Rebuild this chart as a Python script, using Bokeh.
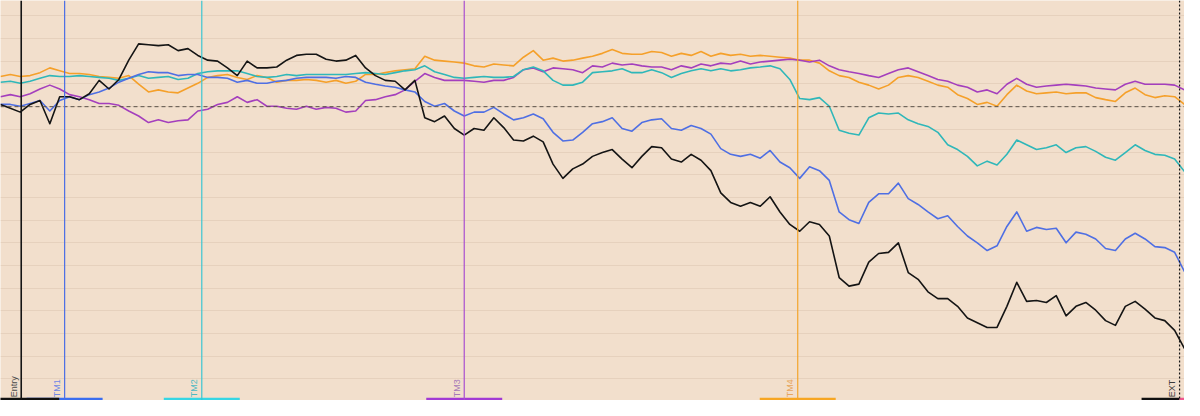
import math
from bokeh.plotting import figure
from bokeh.models import ColumnDataSource, Span, FixedTicker, Range1d
from bokeh.embed import file_html
from bokeh.resources import INLINE
from bokeh.core.properties import value

# ---- data (bar index, value in grid units; 0 = entry level) ----
bars = list(range(121))

black = [0.10, -0.07, -0.24, 0.10, 0.27, -0.75, 0.44, 0.44, 0.31, 0.57,
         1.16, 0.78, 1.20, 2.05, 2.77, 2.73, 2.69, 2.73, 2.47, 2.56,
         2.26, 2.05, 2.01, 1.71, 1.37, 2.01, 1.71, 1.71, 1.75, 2.05,
         2.26, 2.31, 2.31, 2.09, 2.01, 2.05, 2.26, 1.71, 1.37, 1.16,
         1.12, 0.74, 1.16, -0.49, -0.66, -0.41, -0.96, -1.25, -0.96, -1.04,
         -0.49, -0.92, -1.47, -1.51, -1.30, -1.55, -2.53, -3.16, -2.74, -2.53,
         -2.19, -2.02, -1.89, -2.31, -2.69, -2.19, -1.76, -1.81, -2.31, -2.44,
         -2.10, -2.36, -2.82, -3.80, -4.22, -4.39, -4.22, -4.39, -3.97, -4.64,
         -5.19, -5.49, -5.07, -5.19, -5.70, -7.53, -7.91, -7.82, -6.85, -6.47,
         -6.42, -6.00, -7.31, -7.61, -8.16, -8.46, -8.46, -8.80, -9.31, -9.52,
         -9.73, -9.73, -8.80, -7.74, -8.58, -8.54, -8.63, -8.33, -9.22, -8.80,
         -8.63, -8.97, -9.43, -9.64, -8.80, -8.58, -8.92, -9.31, -9.43, -9.86,
         -10.66]

blue = [0.10, 0.10, 0.02, 0.14, 0.27, -0.19, 0.27, 0.44, 0.31, 0.53,
        0.65, 0.82, 1.08, 1.25, 1.42, 1.54, 1.50, 1.50, 1.37, 1.42,
        1.42, 1.29, 1.29, 1.25, 1.08, 1.16, 1.03, 1.03, 1.12, 1.16,
        1.25, 1.29, 1.29, 1.29, 1.25, 1.33, 1.29, 1.08, 0.99, 0.91,
        0.86, 0.74, 0.65, 0.23, 0.02, 0.14, -0.19, -0.41, -0.24, -0.24,
        -0.03, -0.32, -0.58, -0.49, -0.32, -0.53, -1.13, -1.51, -1.47, -1.13,
        -0.75, -0.66, -0.49, -0.96, -1.08, -0.70, -0.58, -0.53, -0.96, -1.04,
        -0.83, -0.96, -1.21, -1.85, -2.10, -2.19, -2.10, -2.27, -1.93, -2.44,
        -2.69, -3.16, -2.65, -2.82, -3.25, -4.64, -4.98, -5.15, -4.22, -3.84,
        -3.84, -3.37, -4.05, -4.31, -4.64, -4.94, -4.81, -5.28, -5.70, -6.00,
        -6.34, -6.13, -5.28, -4.64, -5.49, -5.32, -5.41, -5.36, -6.00, -5.53,
        -5.62, -5.83, -6.25, -6.34, -5.83, -5.58, -5.83, -6.17, -6.21, -6.42,
        -7.27]

cyan = [1.08, 1.12, 1.03, 1.12, 1.25, 1.37, 1.33, 1.33, 1.37, 1.33,
        1.29, 1.25, 1.16, 1.25, 1.37, 1.25, 1.29, 1.33, 1.20, 1.25,
        1.46, 1.54, 1.58, 1.58, 1.58, 1.46, 1.33, 1.29, 1.33, 1.42,
        1.37, 1.42, 1.42, 1.42, 1.42, 1.42, 1.46, 1.50, 1.46, 1.42,
        1.50, 1.58, 1.63, 1.80, 1.54, 1.42, 1.29, 1.25, 1.29, 1.33,
        1.29, 1.29, 1.33, 1.63, 1.75, 1.58, 1.16, 0.95, 0.95, 1.08,
        1.50, 1.54, 1.58, 1.67, 1.50, 1.50, 1.63, 1.50, 1.29, 1.46,
        1.58, 1.67, 1.58, 1.67, 1.58, 1.63, 1.71, 1.75, 1.80, 1.67,
        1.20, 0.36, 0.31, 0.40, 0.02, -1.04, -1.17, -1.25, -0.49, -0.28,
        -0.32, -0.28, -0.58, -0.75, -0.87, -1.13, -1.68, -1.89, -2.19, -2.61,
        -2.40, -2.57, -2.10, -1.47, -1.68, -1.89, -1.81, -1.68, -2.02, -1.81,
        -1.76, -1.97, -2.23, -2.36, -2.02, -1.68, -1.93, -2.10, -2.14, -2.31,
        -2.86]

purple = [0.44, 0.53, 0.44, 0.57, 0.78, 0.95, 0.78, 0.53, 0.44, 0.31,
          0.14, 0.14, 0.06, -0.19, -0.41, -0.70, -0.58, -0.70, -0.62, -0.58,
          -0.19, -0.11, 0.10, 0.19, 0.44, 0.19, 0.31, 0.02, 0.02, -0.07,
          -0.11, 0.02, -0.11, -0.03, -0.07, -0.24, -0.19, 0.27, 0.31, 0.44,
          0.53, 0.74, 1.12, 1.46, 1.29, 1.16, 1.16, 1.16, 1.12, 1.08,
          1.16, 1.16, 1.29, 1.63, 1.71, 1.54, 1.71, 1.67, 1.63, 1.50,
          1.80, 1.75, 1.92, 1.84, 1.88, 1.80, 1.75, 1.75, 1.63, 1.80,
          1.71, 1.88, 1.80, 1.92, 1.88, 2.01, 1.88, 1.97, 2.01, 2.05,
          2.09, 2.05, 1.97, 2.05, 1.80, 1.63, 1.54, 1.46, 1.37, 1.29,
          1.46, 1.63, 1.71, 1.54, 1.37, 1.20, 1.12, 0.95, 0.86, 0.65,
          0.74, 0.57, 0.99, 1.25, 0.99, 0.86, 0.91, 0.95, 0.99, 0.95,
          0.91, 0.82, 0.78, 0.74, 0.99, 1.12, 0.99, 0.99, 0.99, 0.95,
          0.74]

orange = [1.33, 1.42, 1.33, 1.37, 1.50, 1.71, 1.58, 1.46, 1.46, 1.42,
          1.33, 1.29, 1.25, 1.37, 0.99, 0.65, 0.74, 0.65, 0.61, 0.82,
          1.03, 1.29, 1.37, 1.42, 1.29, 1.20, 1.37, 1.29, 1.08, 1.16,
          1.16, 1.20, 1.16, 1.08, 1.16, 1.03, 1.12, 1.42, 1.42, 1.50,
          1.58, 1.63, 1.67, 2.22, 2.05, 2.01, 1.97, 1.92, 1.80, 1.75,
          1.88, 1.84, 1.80, 2.18, 2.47, 2.05, 2.14, 2.01, 2.05, 2.14,
          2.22, 2.35, 2.52, 2.35, 2.31, 2.31, 2.43, 2.39, 2.22, 2.35,
          2.26, 2.43, 2.22, 2.35, 2.26, 2.31, 2.22, 2.26, 2.22, 2.18,
          2.14, 2.05, 2.05, 1.92, 1.58, 1.37, 1.29, 1.08, 0.95, 0.78,
          0.95, 1.29, 1.37, 1.29, 1.12, 0.95, 0.86, 0.53, 0.36, 0.10,
          0.19, 0.02, 0.53, 0.95, 0.69, 0.57, 0.61, 0.65, 0.57, 0.61,
          0.61, 0.40, 0.31, 0.23, 0.61, 0.82, 0.53, 0.40, 0.48, 0.44,
          0.10]

events = ["Entry", "TM1", "TM2", "TM3", "TM4", "EXT"]
event_bar = [2.1, 6.5, 20.4, 47.0, 80.8, 119.5]

# ---- styles ----
BG = "#f2dfcc"
GRID = "#e6d1bd"
series_colors = {"orange": "#f5a02a", "purple": "#a43fbd", "cyan": "#2fb7b9",
                 "blue": "#4f6fe3", "black": "#141414"}
event_line_colors = ["#151515", "#4a6ee6", "#3cc6d2", "#a94fcf", "#f3a52c", "#151515"]
event_text_colors = ["#4a4a4a", "#7088e6", "#4fb9c2", "#a77ab8", "#e7a65c", "#3a3a3a"]
event_bar_colors = ["#111111", "#3b6ef0", "#36d6e4", "#a23ad4", "#f7a623", "#111111"]
BAR_W = 7.7

Y0, Y1 = -12.95, 4.68

p = figure(width=1184, height=400, output_backend="svg", toolbar_location=None,
           x_range=Range1d(0, 120), y_range=Range1d(Y0, Y1),
           min_border=0, background_fill_color=BG, border_fill_color=BG)
p.outline_line_color = None
p.xaxis.visible = False
p.yaxis.visible = False
p.xgrid.visible = False
p.ygrid.ticker = FixedTicker(ticks=list(range(-12, 5)))
p.ygrid.grid_line_color = GRID
p.ygrid.grid_line_width = 1

# zero (entry level) dashed line
p.add_layout(Span(location=0, dimension="width", line_color="#5a5248",
                  line_dash="4 3", line_width=1))

# event vertical lines
for i, (ev, xb) in enumerate(zip(events, event_bar)):
    dash = "2 2" if ev == "EXT" else "solid"
    w = 1.6 if ev == "Entry" else 1.2
    p.add_layout(Span(location=xb, dimension="height", line_color=event_line_colors[i],
                      line_width=w, line_dash=dash))

# series
src = ColumnDataSource(dict(x=bars, black=black, blue=blue, cyan=cyan,
                            purple=purple, orange=orange))
for name in ["orange", "purple", "cyan", "blue", "black"]:
    p.line("x", name, source=src, line_color=series_colors[name], line_width=1.6,
           line_join="round")

# bottom event markers (bars)
bottom_h = 0.12
order = [1, 0, 2, 3, 4, 5]
for i in order:
    xb = event_bar[i]
    p.quad(left=[xb - BAR_W / 2], right=[xb + BAR_W / 2 if events[i] != "EXT" else xb],
           bottom=[Y0], top=[Y0 + bottom_h], fill_color=event_bar_colors[i],
           line_color=None)
p.quad(left=[event_bar[5]], right=[event_bar[5] + BAR_W / 2], bottom=[Y0],
       top=[Y0 + bottom_h], fill_color="#f0588f", line_color=None)

# event labels (rotated)
lab_src = ColumnDataSource(dict(x=[b - 0.25 for b in event_bar],
                                y=[Y0 + 0.14] * len(events),
                                t=events, c=event_text_colors))
p.text(x="x", y="y", text="t", source=lab_src, text_color="c",
       angle=math.pi / 2, text_align="left", text_baseline="bottom",
       text_font=value("Liberation Sans"), text_font_size="9px")

open("out.html", "w").write(file_html(p, INLINE))
